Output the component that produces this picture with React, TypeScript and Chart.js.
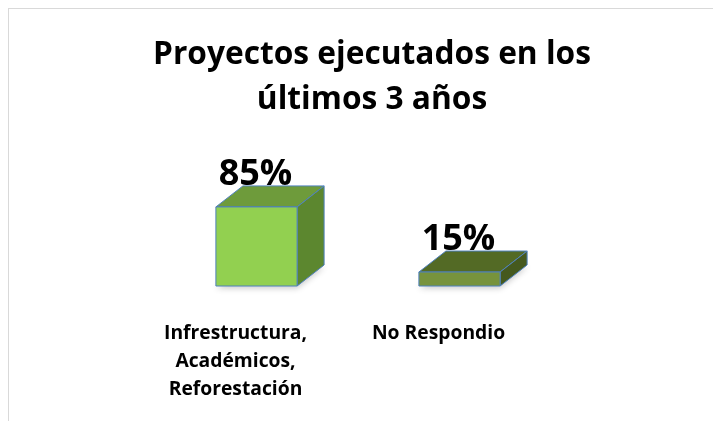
import React, { useEffect, useRef } from "react";
import { Chart, registerables } from "chart.js";

Chart.register(...registerables);

const titleLines = ["Proyectos ejecutados en los", "últimos 3 años"];
const categories = [
  ["Infrestructura,", "Académicos,", "Reforestación"],
  ["No Respondio"],
];
const values = [85, 15];
const frontColors = ["#92D050", "#77933C"];
const topColors = ["#6E9B3B", "#536A25"];
const sideColors = ["#5C872F", "#45591E"];

const FONT = "'Open Sans', Lato, sans-serif";

const box3d = {
  id: "box3d",
  afterDatasetsDraw(chart: any) {
    const ctx = chart.ctx;
    const meta = chart.getDatasetMeta(0);
    const dx = 27;
    const dy = -21;
    meta.data.forEach((bar: any, i: number) => {
      const { x, y, base, width } = bar.getProps(["x", "y", "base", "width"], true);
      const l = x - width / 2;
      const r = x + width / 2;
      const t = y;
      const b = base;
      ctx.save();
      // soft floor shadow
      ctx.save();
      ctx.shadowColor = "rgba(0,0,0,0.45)";
      ctx.shadowBlur = 6;
      ctx.shadowOffsetY = 2;
      ctx.fillStyle = "rgba(120,120,120,0.5)";
      ctx.beginPath();
      ctx.moveTo(l, b);
      ctx.lineTo(r, b);
      ctx.lineTo(r + dx, b + dy);
      ctx.lineTo(l + dx, b + dy);
      ctx.closePath();
      ctx.fill();
      ctx.restore();

      ctx.lineWidth = 1;
      ctx.strokeStyle = "#4F81BD";
      ctx.lineJoin = "round";
      // top face
      ctx.fillStyle = topColors[i];
      ctx.beginPath();
      ctx.moveTo(l, t);
      ctx.lineTo(l + dx, t + dy);
      ctx.lineTo(r + dx, t + dy);
      ctx.lineTo(r, t);
      ctx.closePath();
      ctx.fill();
      ctx.stroke();
      // side face
      ctx.fillStyle = sideColors[i];
      ctx.beginPath();
      ctx.moveTo(r, t);
      ctx.lineTo(r + dx, t + dy);
      ctx.lineTo(r + dx, b + dy);
      ctx.lineTo(r, b);
      ctx.closePath();
      ctx.fill();
      ctx.stroke();
      // front face
      ctx.fillStyle = frontColors[i];
      ctx.beginPath();
      ctx.rect(l, t, width, b - t);
      ctx.fill();
      ctx.stroke();

      // value label
      ctx.fillStyle = "#000";
      ctx.font = `bold 36px ${FONT}`;
      ctx.textAlign = "center";
      ctx.textBaseline = "alphabetic";
      ctx.fillText(values[i] + "%", x - 1, t + dy - 1);
      ctx.restore();
    });
  },
};

const hiddenAxis = (w: number, position: string) => ({
  type: "linear",
  position,
  display: true,
  min: 0,
  max: 100,
  grid: { display: false, drawTicks: false },
  border: { display: false },
  ticks: { display: false },
  afterFit: (axis: any) => {
    axis.width = w;
  },
});

export default function App() {
  const ref = useRef<HTMLCanvasElement>(null);
  useEffect(() => {
    if (!ref.current) return;
    const chart = new Chart(ref.current, {
      type: "bar",
      data: {
        labels: categories as any,
        datasets: [
          {
            data: values,
            backgroundColor: "rgba(0,0,0,0)",
            borderWidth: 0,
            barPercentage: 0.4,
            categoryPercentage: 1,
            yAxisID: "y",
          },
        ],
      },
      options: {
        animation: false,
        responsive: true,
        maintainAspectRatio: false,
        layout: { padding: { left: 14, right: 0, top: 0, bottom: 10 } },
        plugins: {
          legend: { display: false },
          tooltip: { enabled: false },
          title: {
            display: true,
            text: titleLines,
            color: "#000",
            font: { family: FONT, size: 31.7, weight: "bold", lineHeight: 1.435 },
            padding: { top: 23, bottom: 70 },
          },
        },
        scales: {
          x: {
            grid: { display: false, drawTicks: false },
            border: { display: false },
            afterFit: (axis: any) => {
              axis.height = 125;
            },
            ticks: {
              color: "#000",
              font: { family: FONT, size: 19.3, weight: "bold", lineHeight: 1.45 },
              padding: 34,
              labelOffset: -21,
              maxRotation: 0,
              autoSkip: false,
            },
          },
          y: hiddenAxis(132, "left") as any,
          y2: hiddenAxis(160, "right") as any,
        },
      },
      plugins: [box3d],
    });
    return () => chart.destroy();
  }, []);
  return (
    <>
      <style>{"html,body{overflow:hidden}"}</style>
      <div
        style={{
          width: 712,
          height: 412,
          borderTop: "1px solid #d9d9d9",
          borderLeft: "1px solid #d9d9d9",
          background: "#fff",
        }}
      >
        <canvas ref={ref} />
      </div>
    </>
  );
}
